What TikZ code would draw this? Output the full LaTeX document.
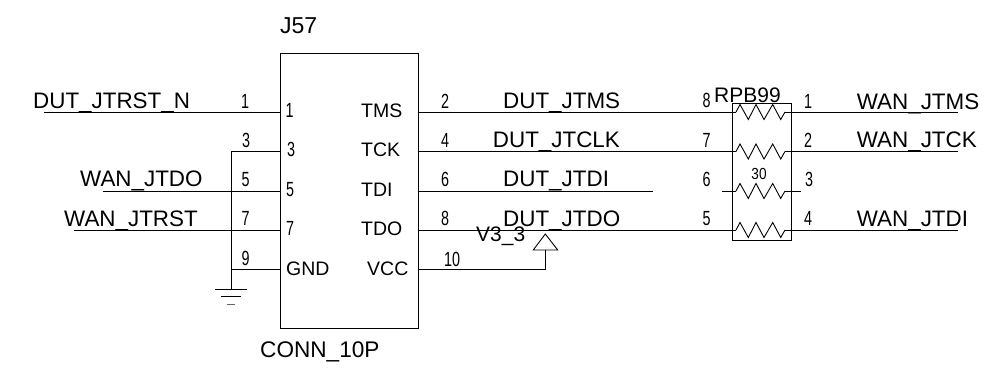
\documentclass[tikz,border=0pt]{standalone}
\usepackage{fontspec}
\setmainfont{Liberation Sans}
\usepackage{graphicx}
\newcommand{\pinnum}[1]{\scalebox{0.7}[1]{#1}}
\tikzset{
  netlabel/.style={anchor=base west,inner sep=0pt,font=\fontsize{22.4}{22.4}\selectfont},
  pinname/.style={anchor=base west,inner sep=0pt,font=\fontsize{19.5}{19.5}\selectfont},
  pinlabel/.style={anchor=base,inner sep=0pt,font=\fontsize{20.5}{20.5}\selectfont},
  wire/.style={line width=0.9pt,color=black},
  zigzag/.pic={
    \coordinate (-l) at (0,0);
    \coordinate (-r) at (49,0);
    \draw [wire] (-l) -- (4,7.5) -- (12.3,-7.5) -- (20,7.5) -- (28,-7.5) -- (36.7,7.5) -- (44.7,-7.5) -- (-r);
  }
}
\begin{document}
\begin{tikzpicture}[x=1pt,y=1pt,yscale=-1,xscale=1]
\useasboundingbox (0,0) rectangle (996,371);

%Connector
\node [draw,wire,anchor=north west,inner sep=0pt,minimum width=137.5pt,minimum height=275pt] (J57box) at (280,53) {};
\node [netlabel,font=\fontsize{23}{23}\selectfont] (J57) at (280,33.7) {J57};
\node [netlabel,font=\fontsize{22.6}{22.6}\selectfont] (conn) at (260,357.3) {CONN\_10P};

%Resistor pack
\node [draw,wire,anchor=north west,inner sep=0pt,minimum width=59pt,minimum height=137.3pt] (RPbox) at (731.7,102.7) {};
\pic (rp1) at (736,112) {zigzag};
\pic (rp2) at (736,151.5) {zigzag};
\pic (rp3) at (736,191) {zigzag};
\pic (rp4) at (736,230) {zigzag};
\node [netlabel,font=\fontsize{21}{21}\selectfont] (RPB) at (714,102.3) {RPB99};
\node [pinlabel,font=\fontsize{16}{16}\selectfont] (val) at (759,180) {\scalebox{0.85}[1]{30}};

%Left wires
\coordinate (a1) at (44,112);
\coordinate (b1) at (280,112);
\coordinate (a3) at (231,151.5);
\coordinate (b3) at (280,151.5);
\coordinate (a5) at (103,191);
\coordinate (b5) at (280,191);
\coordinate (a7) at (74,230);
\coordinate (b7) at (280,230);
\coordinate (a9) at (231,269.5);
\coordinate (b9) at (280,269.5);
\coordinate (gnd) at (231,289);
\draw [wire] (a1) -- (b1);
\draw [wire] (gnd) -- (a3) -- (b3);
\draw [wire] (a5) -- (b5);
\draw [wire] (a7) -- (b7);
\draw [wire] (a9) -- (b9);

%Ground
\draw [wire] (215,289) -- (247,289);
\draw [wire] (221,296.5) -- (241,296.5);
\draw [wire,color=black!60] (227,304.7) -- (235,304.7);

%Right wires
\coordinate (c2) at (417.5,112);
\coordinate (c4) at (417.5,151.5);
\coordinate (c6) at (417.5,191);
\coordinate (d6) at (653,191);
\coordinate (c8) at (417.5,230);
\coordinate (c10) at (417.5,269.5);
\coordinate (corner) at (545.5,269.5);
\coordinate (pwr) at (545.5,250);
\coordinate (e3) at (722,191);
\coordinate (f3) at (800.5,191);
\coordinate (f1) at (958,112);
\coordinate (f2) at (958,151.5);
\coordinate (f4) at (958,230);
\draw [wire] (c2) -- (rp1-l);
\draw [wire] (c4) -- (rp2-l);
\draw [wire] (c6) -- (d6);
\draw [wire] (c8) -- (rp4-l);
\draw [wire] (c10) -- (corner) -- (pwr);
\draw [wire] (e3) -- (rp3-l);
\draw [wire] (rp3-r) -- (f3);
\draw [wire] (rp1-r) -- (f1);
\draw [wire] (rp2-r) -- (f2);
\draw [wire] (rp4-r) -- (f4);

%Power symbol
\draw [wire] (533.3,250) -- (545.3,234) -- (557.7,250) -- cycle;

%Net labels
\node [netlabel] (n1) at (33,108.7) {DUT\_JTRST\_N};
\node [netlabel] (n5) at (80,187) {WAN\_JTDO};
\node [netlabel] (n7) at (64,226.7) {WAN\_JTRST};
\node [netlabel] (n2) at (503,109) {DUT\_JTMS};
\node [netlabel] (n4) at (492.7,148) {DUT\_JTCLK};
\node [netlabel] (n6) at (503,187) {DUT\_JTDI};
\node [netlabel] (n8) at (503,226.7) {DUT\_JTDO};
\node [netlabel,font=\fontsize{21}{21}\selectfont] (v33) at (476,241.7) {V3\_3};
\node [netlabel] (m1) at (856.7,109.3) {WAN\_JTMS};
\node [netlabel] (m2) at (856.7,148) {WAN\_JTCK};
\node [netlabel] (m4) at (856.7,226.7) {WAN\_JTDI};

%Pin names
\node [pinname] (tms) at (361,117.7) {TMS};
\node [pinname] (tck) at (361,157) {TCK};
\node [pinname] (tdi) at (361,197) {TDI};
\node [pinname] (tdo) at (361,235.7) {TDO};
\node [pinname] (vcc) at (367,276) {VCC};
\node [pinname] (gndname) at (286,276) {GND};
\node [pinlabel] (i1) at (289.7,118) {\pinnum{1}};
\node [pinlabel] (i3) at (291,157) {\pinnum{3}};
\node [pinlabel] (i5) at (290,197) {\pinnum{5}};
\node [pinlabel] (i7) at (290,236) {\pinnum{7}};

%Pin numbers
\node [pinlabel] (o1) at (245,109) {\pinnum{1}};
\node [pinlabel] (o3) at (246,148) {\pinnum{3}};
\node [pinlabel] (o5) at (245.5,187) {\pinnum{5}};
\node [pinlabel] (o7) at (245.5,226) {\pinnum{7}};
\node [pinlabel] (o9) at (245.5,266) {\pinnum{9}};
\node [pinlabel] (o2) at (445,109) {\pinnum{2}};
\node [pinlabel] (o4) at (445,148) {\pinnum{4}};
\node [pinlabel] (o6) at (445,187) {\pinnum{6}};
\node [pinlabel] (o8) at (445,226) {\pinnum{8}};
\node [pinlabel] (o10) at (452,266.7) {\pinnum{10}};
\node [pinlabel] (r8) at (706.7,108) {\pinnum{8}};
\node [pinlabel] (r7) at (706.7,148) {\pinnum{7}};
\node [pinlabel] (r6) at (706.7,187) {\pinnum{6}};
\node [pinlabel] (r5) at (706.7,226) {\pinnum{5}};
\node [pinlabel] (s1) at (808,109) {\pinnum{1}};
\node [pinlabel] (s2) at (808,148) {\pinnum{2}};
\node [pinlabel] (s3) at (809,187) {\pinnum{3}};
\node [pinlabel] (s4) at (808,226) {\pinnum{4}};

\end{tikzpicture}
\end{document}
